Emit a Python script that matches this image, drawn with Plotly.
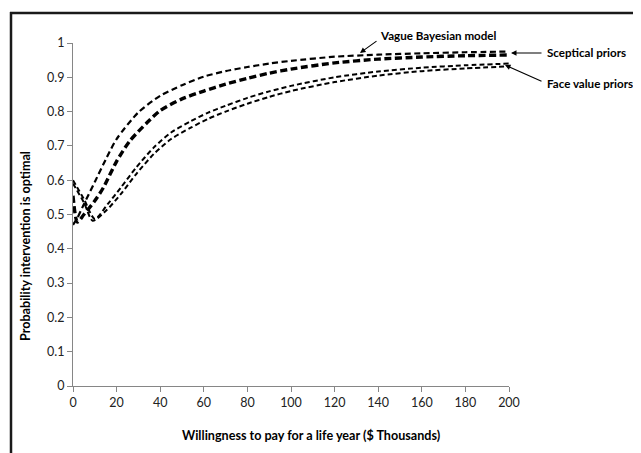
import plotly.graph_objects as go

# ---- data ----
wtp_vague = [0, 2, 5, 10, 15, 20, 30, 40, 50, 60, 70, 80, 90, 100, 120, 140, 160, 180, 200]
prob_vague = [0.47, 0.49, 0.53, 0.595, 0.66, 0.72, 0.798, 0.846, 0.877, 0.902, 0.918, 0.93,
              0.94, 0.948, 0.96, 0.966, 0.97, 0.973, 0.975]

wtp_sceptical = [0, 2, 5, 10, 14, 20, 26, 34, 40, 50, 60, 70, 80, 90, 100, 120, 140, 160, 180, 200]
prob_sceptical = [0.555, 0.478, 0.50, 0.54, 0.579, 0.655, 0.714, 0.768, 0.803, 0.837, 0.86, 0.88,
                  0.897, 0.912, 0.924, 0.942, 0.953, 0.959, 0.963, 0.965]

wtp_face_a = [0, 5, 10, 16, 22, 29, 37, 45, 54, 62, 70, 80, 90, 100, 120, 140, 160, 180, 200]
prob_face_a = [0.6, 0.545, 0.487, 0.531, 0.579, 0.637, 0.695, 0.739, 0.772, 0.797, 0.817, 0.84,
               0.859, 0.875, 0.9, 0.917, 0.928, 0.935, 0.94]

wtp_face_b = [0, 5, 9, 15, 22, 29, 37, 45, 54, 62, 70, 80, 90, 100, 120, 140, 160, 180, 200]
prob_face_b = [0.59, 0.535, 0.482, 0.51, 0.56, 0.618, 0.676, 0.72, 0.753, 0.779, 0.8, 0.823,
               0.843, 0.86, 0.886, 0.905, 0.918, 0.926, 0.932]

x_ticks = [0, 20, 40, 60, 80, 100, 120, 140, 160, 180, 200]
y_ticks = [0, 0.1, 0.2, 0.3, 0.4, 0.5, 0.6, 0.7, 0.8, 0.9, 1]
y_tick_labels = ["0", "0.1", "0.2", "0.3", "0.4", "0.5", "0.6", "0.7", "0.8", "0.9", "1"]

x_title = "Willingness to pay for a life year ($ Thousands)"
y_title = "Probability intervention is optimal"
label_vague = "Vague Bayesian model"
label_sceptical = "Sceptical priors"
label_face = "Face value priors"

FONT = "Lato, 'Open Sans', sans-serif"
OFF = 8                      # page body margin of the html page
W, H = 641 - OFF, 453 - OFF  # figure fills the rest of the window
L, R, T, B = 65, 132, 35, 67
PW, PH = W - L - R, H - T - B


def sx(p):  # window pixel -> paper x
    return (p - OFF - L) / PW


def sy(p):  # window pixel -> paper y
    return (H - B - (p - OFF)) / PH


fig = go.Figure()


def add_line(x, y, width, dash):
    fig.add_trace(go.Scatter(
        x=x, y=y, mode="lines",
        line=dict(color="black", width=width, dash=dash, shape="spline", smoothing=0.7),
        showlegend=False, hoverinfo="skip"))


add_line(wtp_vague, prob_vague, 2.2, "6px,3.5px")
add_line(wtp_sceptical, prob_sceptical, 3.4, "7px,3.5px")
add_line(wtp_face_a, prob_face_a, 2.0, "5px,3px")
add_line(wtp_face_b, prob_face_b, 2.0, "5px,3px")

axis_common = dict(
    showline=True, linecolor="#868686", linewidth=1,
    ticks="outside", ticklen=5, tickcolor="#868686", tickwidth=1,
    showgrid=False, zeroline=False,
    tickfont=dict(family=FONT, size=12.5, color="#222222"),
)

fig.update_xaxes(range=[0, 200], tickmode="array", tickvals=x_ticks, **axis_common)
fig.update_yaxes(range=[0, 1], tickmode="array", tickvals=y_ticks, ticktext=y_tick_labels,
                 **axis_common)

annotations = []
arrow = dict(showarrow=True, arrowhead=2, arrowsize=1, arrowwidth=1.1, arrowcolor="black",
             axref="pixel", ayref="pixel", text="", xref="paper", yref="paper")
# arrows: head on the curve, tail next to the label (window pixels)
for (hx, hy), (tx, ty) in [((360, 53), (378, 40)),
                           ((511, 53), (543, 53)),
                           ((505, 65), (543, 82))]:
    annotations.append(dict(x=sx(hx), y=sy(hy), ax=tx - hx, ay=ty - hy, **arrow))

lab_font = dict(family=FONT, size=11.6, color="black")
for txt, lx, ly in [(label_vague, 378, 36), (label_sceptical, 545, 52), (label_face, 545, 83)]:
    annotations.append(dict(text="<b>%s</b>" % txt, xref="paper", yref="paper",
                            x=sx(lx), y=sy(ly), xanchor="left", yanchor="middle",
                            showarrow=False, font=lab_font))

title_font = dict(family=FONT, size=12.6, color="black")
annotations.append(dict(text="<b>%s</b>" % x_title, xref="paper", yref="paper",
                        x=sx(311), y=sy(435.5), xanchor="center", yanchor="middle",
                        showarrow=False, font=title_font))
annotations.append(dict(text="<b>%s</b>" % y_title, xref="paper", yref="paper",
                        x=sx(25), y=sy(246), xanchor="center", yanchor="middle",
                        textangle=-90, showarrow=False, font=title_font))

shapes = [
    dict(type="line", xref="paper", yref="paper", x0=sx(10), x1=sx(645),
         y0=sy(13), y1=sy(13), line=dict(color="#1a1a1a", width=2.5)),
    dict(type="line", xref="paper", yref="paper", x0=sx(11), x1=sx(11),
         y0=sy(12), y1=sy(460), line=dict(color="#1a1a1a", width=2.5)),
]

fig.update_layout(
    width=W, height=H,
    margin=dict(l=L, r=R, t=T, b=B),
    paper_bgcolor="white", plot_bgcolor="white",
    font=dict(family=FONT, color="#222222"),
    annotations=annotations, shapes=shapes,
    showlegend=False,
)

fig.write_html("out.html")
